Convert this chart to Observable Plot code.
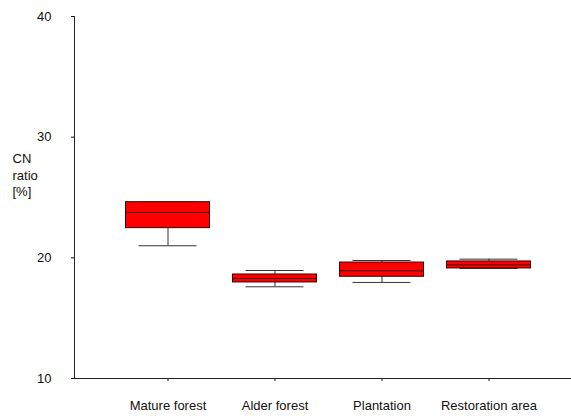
<!DOCTYPE html>
<html>
<head>
<meta charset="utf-8">
<script src="https://cdn.jsdelivr.net/npm/d3@7"></script>
<script src="https://cdn.jsdelivr.net/npm/@observablehq/plot@0.6"></script>
<style>
  html, body { margin: 0; padding: 0; background: #fff; }
  #chart svg { display: block; }
</style>
</head>
<body>
<div id="chart"></div>
<script>
const categories = ["Mature forest", "Alder forest", "Plantation", "Restoration area"];
const whiskerLow  = [21.0, 17.6, 17.96, 19.12];
const q1          = [22.46, 17.96, 18.43, 19.12];
const median      = [23.76, 18.29, 18.93, 19.42];
const q3          = [24.61, 18.62, 19.61, 19.70];
const whiskerHigh = [24.61, 18.95, 19.78, 19.89];
const yTicks = [10, 20, 30, 40];

const rows = categories.map((c, i) => ({
  cat: c, lo: whiskerLow[i], q1: q1[i], med: median[i], q3: q3[i], hi: whiskerHigh[i]
}));

const plot = Plot.plot({
  width: 571,
  height: 419,
  marginLeft: 74,
  marginRight: 0,
  marginTop: 16,
  marginBottom: 41,
  style: { fontFamily: "'Liberation Sans', Arial, sans-serif", fontSize: "13px", color: "#111" },
  x: { type: "band", domain: categories, range: [113.5, 541.5], padding: 0, label: null },
  y: { domain: [10, 40], label: null },
  marks: [
    Plot.axisY({ ticks: yTicks, tickSize: 3, tickPadding: 20, fontSize: 13, label: null }),
    Plot.axisX({ tickSize: 3, tickPadding: 19, fontSize: 13, label: null }),
    Plot.frame({ anchor: "left", stroke: "#222" }),
    Plot.ruleY([10], { stroke: "#222" }),
    Plot.ruleX(rows, { x: "cat", y1: "lo", y2: "hi", stroke: "#333" }),
    Plot.tickY(rows, { x: "cat", y: "lo", stroke: "#333", insetLeft: 24.5, insetRight: 24.5 }),
    Plot.tickY(rows, { x: "cat", y: "hi", stroke: "#333", insetLeft: 24.5, insetRight: 24.5 }),
    Plot.barY(rows, { x: "cat", y1: "q1", y2: "q3", fill: "#ff0000", stroke: "#3a0000", strokeWidth: 1, insetLeft: 11.5, insetRight: 11.5 }),
    Plot.tickY(rows, { x: "cat", y: "med", stroke: "#3a0000", insetLeft: 11.5, insetRight: 11.5 }),
    Plot.text(["CN\nratio\n[%]"], { frameAnchor: "left", dx: -62, dy: -23, textAnchor: "start", lineHeight: 1.25, fontSize: 13, fill: "#111" })
  ]
});
document.getElementById("chart").appendChild(plot);
</script>
</body>
</html>
